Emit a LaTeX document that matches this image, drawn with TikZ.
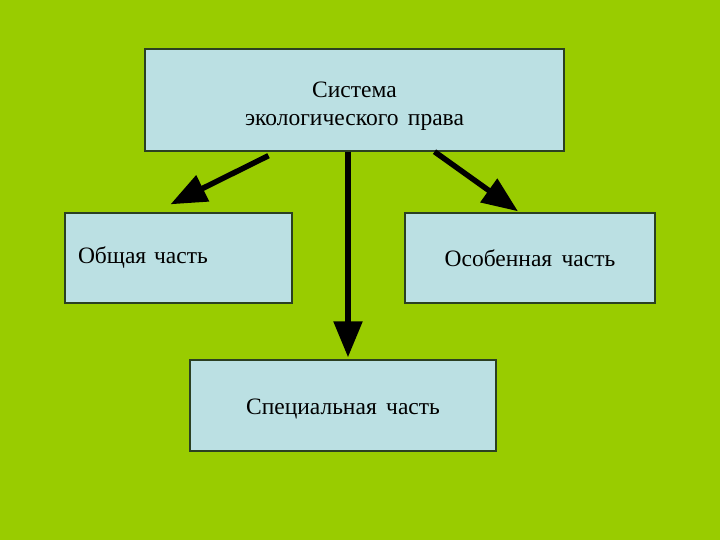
\documentclass[tikz,border=0pt]{standalone}
\usepackage{fontspec}
\setmainfont[WordSpace=1.6]{Liberation Serif}
\usetikzlibrary{arrows.meta}
\definecolor{slidegreen}{HTML}{99CC00}
\definecolor{boxblue}{HTML}{BBE0E3}
\definecolor{boxline}{HTML}{2B4022}
\begin{document}
\begin{tikzpicture}[
			     x=1pt, y=-1pt,
			     part/.style={draw=boxline, line width=1.4pt, fill=boxblue, font=\fontsize{23.5}{28}\selectfont, align=center, inner sep=0pt},
			     bigarrow/.style={line width=5.5pt, -{Triangle[length=36pt,width=28pt]}}
			     ]
\fill[slidegreen] (0,0) rectangle (720,540);
\useasboundingbox (0,0) rectangle (720,540);
\node[part, minimum width=419pt, minimum height=102pt] (sys) at (354.5,100) {\rule{0pt}{28pt}Система\\экологического права};
\node[part, minimum width=227pt, minimum height=90pt, text width=201pt, align=left] (gen) at (178.5,258) {Общая часть};
\node[part, minimum width=250pt, minimum height=90pt] (osob) at (530,258) {Особенная часть};
\node[part, minimum width=306pt, minimum height=91pt] (spec) at (343,405.5) {\rule{0pt}{22pt}Специальная часть};
\draw[bigarrow] ([xshift=-86pt,yshift=-4pt]sys.south) -- ([xshift=-8pt,yshift=8pt]gen.north);
\draw[bigarrow] ([xshift=-6.5pt]sys.south) -- ([xshift=5pt,yshift=2pt]spec.north);
\draw[bigarrow] ([xshift=80pt]sys.south) -- ([xshift=-12pt,yshift=1pt]osob.north);
\end{tikzpicture}
\end{document}
